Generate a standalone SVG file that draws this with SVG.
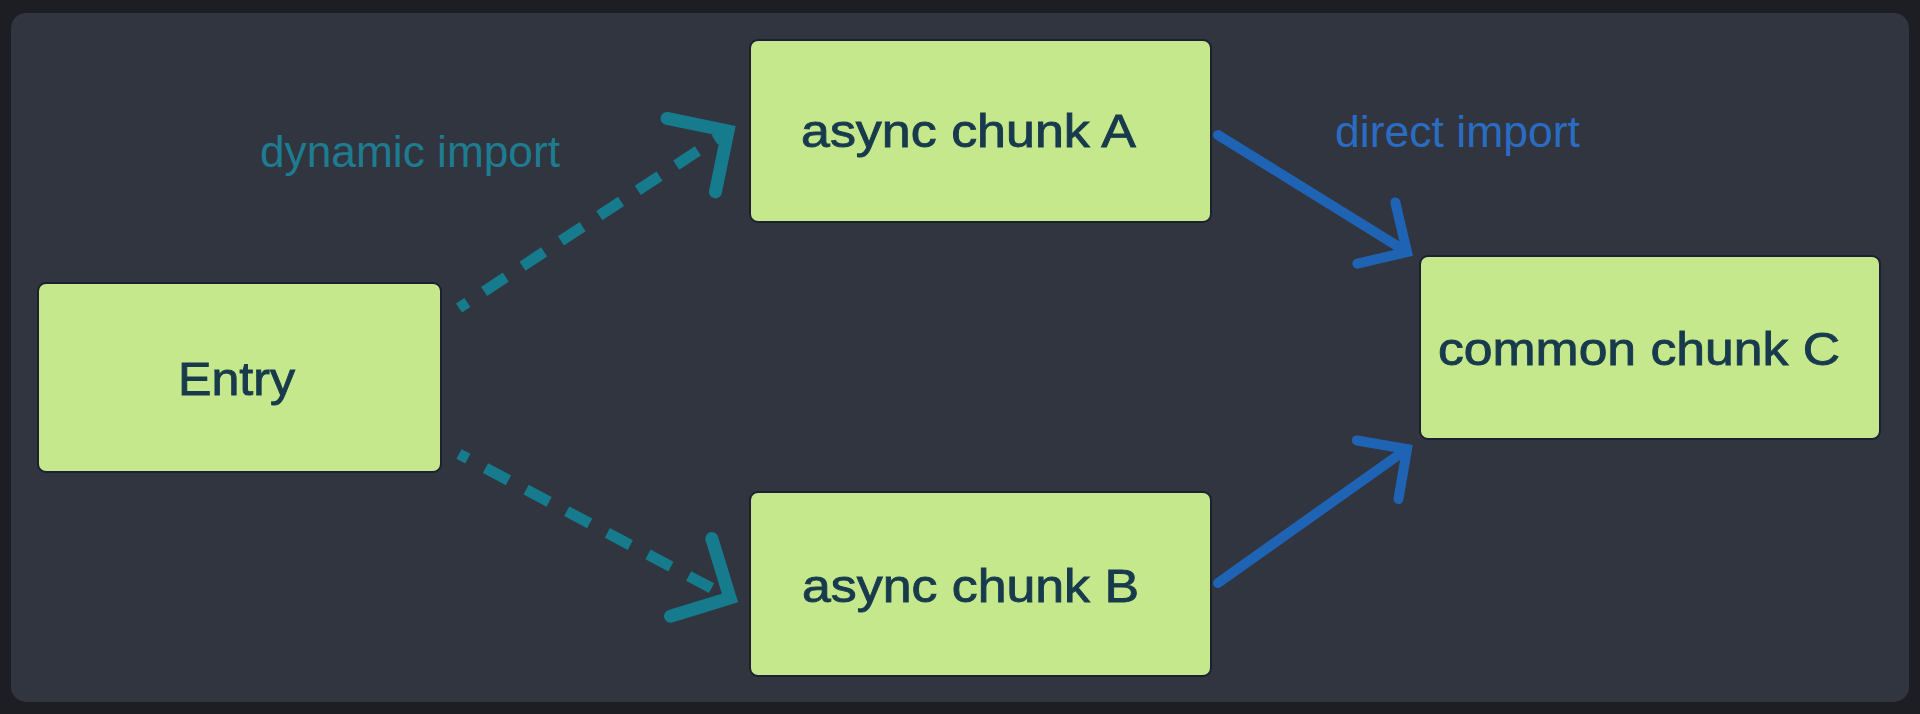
<svg xmlns="http://www.w3.org/2000/svg" width="1920" height="714" viewBox="0 0 1920 714">
  <style>
    .node rect { fill: #c5e88c; stroke: #1b2133; stroke-width: 2; }
    .node text { font-family: "Liberation Sans", Arial, sans-serif; font-size: 47px; fill: #173a4c; stroke: #173a4c; stroke-width: 0.9; }
    .lbl { font-family: "Liberation Sans", Arial, sans-serif; font-size: 44px; }
    .dash { fill: none; stroke: #157b8d; stroke-width: 11; stroke-dasharray: 26 20; }
    .solid { fill: none; stroke: #1f64b4; stroke-width: 10; stroke-linecap: round; }
  </style>
  <defs>
    <marker id="ahTeal" markerWidth="1" markerHeight="1" markerUnits="userSpaceOnUse" orient="auto" overflow="visible">
      <path d="M-44,-44 L0,0 L-44,44" fill="none" stroke="#157b8d" stroke-width="13" stroke-linecap="round" stroke-linejoin="miter"/>
    </marker>
    <marker id="ahBlue" markerWidth="1" markerHeight="1" markerUnits="userSpaceOnUse" orient="auto" overflow="visible">
      <path d="M-36,-36 L0,0 L-36,36" fill="none" stroke="#1f64b4" stroke-width="10" stroke-linecap="round" stroke-linejoin="miter"/>
    </marker>
  </defs>
  <rect x="0" y="0" width="1920" height="714" fill="#1d1e23"/>
  <rect x="11" y="13" width="1898" height="689" rx="15" fill="#31353f"/>

  <g id="connectors">
    <line class="dash" x1="459" y1="308" x2="728" y2="131" stroke-dashoffset="16" marker-end="url(#ahTeal)"/>
    <line class="dash" x1="459" y1="454" x2="730" y2="598" stroke-dashoffset="16" marker-end="url(#ahTeal)"/>
    <line class="solid" x1="1218" y1="135" x2="1407" y2="252" marker-end="url(#ahBlue)"/>
    <line class="solid" x1="1218" y1="583" x2="1407" y2="449" marker-end="url(#ahBlue)"/>
    <text class="lbl" x="260" y="167" fill="#1e7c90" textLength="300" lengthAdjust="spacingAndGlyphs">dynamic import</text>
    <text class="lbl" x="1335" y="147" fill="#2a6cc2" textLength="245" lengthAdjust="spacingAndGlyphs">direct import</text>
  </g>

  <g id="entry" class="node">
    <rect x="38" y="283" width="403" height="189" rx="8"/>
    <text x="178" y="395" textLength="117" lengthAdjust="spacingAndGlyphs">Entry</text>
  </g>
  <g id="chunkA" class="node">
    <rect x="750" y="40" width="461" height="182" rx="8"/>
    <text x="801" y="147" textLength="335" lengthAdjust="spacingAndGlyphs">async chunk A</text>
  </g>
  <g id="chunkB" class="node">
    <rect x="750" y="492" width="461" height="184" rx="8"/>
    <text x="802" y="602" textLength="337" lengthAdjust="spacingAndGlyphs">async chunk B</text>
  </g>
  <g id="chunkC" class="node">
    <rect x="1420" y="256" width="460" height="183" rx="8"/>
    <text x="1438" y="365" textLength="402" lengthAdjust="spacingAndGlyphs">common chunk C</text>
  </g>
</svg>
